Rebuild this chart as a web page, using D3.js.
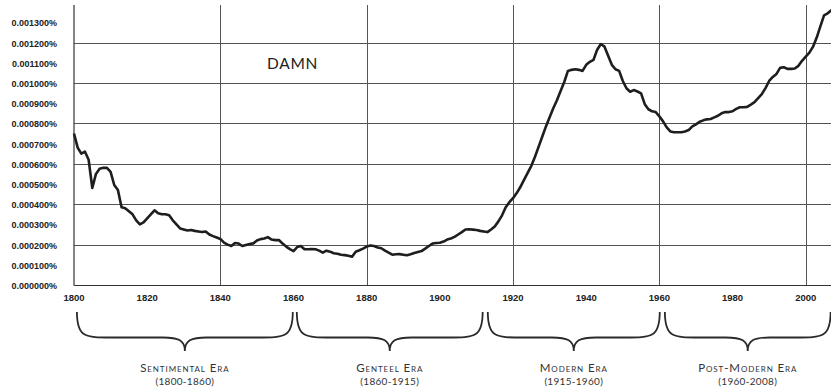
<!DOCTYPE html>
<html>
<head>
<meta charset="utf-8">
<script src="https://cdn.jsdelivr.net/npm/d3@7"></script>
<style>
  body { margin: 0; background: #fff; }
  svg { display: block; }
  .tick-label { font-family: "Liberation Sans", Arial, sans-serif; font-weight: bold; font-size: 9px; fill: #222; }
  .era { font-family: Lato, "Open Sans", sans-serif; fill: #333; }
</style>
</head>
<body>
<div id="chart"></div>
<script>
const width = 831;
const height = 388;

// frequency of "damn" (percent of words)
const years = d3.range(1800, 2009);
const values = [
  7.5, 6.8, 6.5, 6.6, 6.2, 4.8, 5.5, 5.75, 5.8, 5.8,      // 1800
  5.6, 4.95, 4.7, 3.85, 3.8, 3.65, 3.5, 3.2, 3.0, 3.1,    // 1810
  3.3, 3.5, 3.7, 3.55, 3.5, 3.5, 3.45, 3.2, 3.0, 2.8,     // 1820
  2.75, 2.7, 2.72, 2.68, 2.65, 2.62, 2.65, 2.5, 2.42, 2.35, // 1830
  2.28, 2.1, 2.0, 1.93, 2.08, 2.05, 1.93, 1.98, 2.03, 2.06, // 1840
  2.2, 2.27, 2.3, 2.37, 2.25, 2.22, 2.23, 2.05, 1.9, 1.78, // 1850
  1.68, 1.88, 1.93, 1.77, 1.77, 1.78, 1.77, 1.7, 1.6, 1.7, // 1860
  1.65, 1.57, 1.55, 1.5, 1.48, 1.45, 1.4, 1.65, 1.72, 1.8, // 1870
  1.9, 1.96, 1.93, 1.86, 1.82, 1.7, 1.6, 1.5, 1.52, 1.53, // 1880
  1.5, 1.47, 1.52, 1.58, 1.63, 1.68, 1.8, 1.93, 2.05, 2.08, // 1890
  2.09, 2.15, 2.25, 2.3, 2.38, 2.5, 2.62, 2.75, 2.76, 2.74, // 1900
  2.72, 2.68, 2.65, 2.62, 2.75, 2.9, 3.15, 3.45, 3.85, 4.1, // 1910
  4.3, 4.55, 4.85, 5.2, 5.55, 5.9, 6.35, 6.85, 7.35, 7.85, // 1920
  8.3, 8.75, 9.15, 9.6, 10.05, 10.6, 10.65, 10.68, 10.65, 10.6, // 1930
  10.9, 11.05, 11.15, 11.65, 11.93, 11.8, 11.35, 10.9, 10.68, 10.6, // 1940
  10.1, 9.74, 9.57, 9.65, 9.58, 9.49, 8.95, 8.7, 8.6, 8.56, // 1950
  8.35, 8.1, 7.8, 7.6, 7.56, 7.56, 7.56, 7.6, 7.67, 7.85, // 1960
  7.95, 8.08, 8.15, 8.2, 8.22, 8.3, 8.38, 8.5, 8.56, 8.56, // 1970
  8.6, 8.72, 8.8, 8.8, 8.82, 8.93, 9.05, 9.25, 9.45, 9.75, // 1980
  10.1, 10.3, 10.45, 10.75, 10.78, 10.7, 10.7, 10.72, 10.85, 11.1, // 1990
  11.3, 11.5, 11.8, 12.25, 12.8, 13.35, 13.45, 13.6, 13.75 // 2000
].map(v => v * 0.0001);

const yTicks = d3.range(0, 14).map(i => i * 0.0001);
const gridValues = [0.0002, 0.0004, 0.0006, 0.0008, 0.0010, 0.0012];
const xTicks = [1800, 1820, 1840, 1860, 1880, 1900, 1920, 1940, 1960, 1980, 2000];
const xGrid = [1840, 1880, 1920, 1960, 2000];

const eraNames = ["Sentimental Era", "Genteel Era", "Modern Era", "Post-Modern Era"];
const eraRanges = ["(1800-1860)", "(1860-1915)", "(1915-1960)", "(1960-2008)"];
const braceStart = [1800.8, 1860.9, 1913.1, 1961.5];
const braceEnd = [1859.8, 1911.7, 1960.1, 2006.8];

const wordLabel = "DAMN";

const x = d3.scaleLinear().domain([1800, 2008]).range([74, 835]);
const y = d3.scaleLinear().domain([0, 0.0013]).range([285, 22.4]);
const plotTop = 5;

const svg = d3.select("#chart")
  .append("svg")
  .attr("width", width)
  .attr("height", height);

// horizontal grid
svg.selectAll(".hgrid")
  .data(gridValues)
  .join("line")
    .attr("x1", x(1800)).attr("x2", width)
    .attr("y1", d => Math.round(y(d)) + 0.5)
    .attr("y2", d => Math.round(y(d)) + 0.5)
    .style("stroke", "#555")
    .style("stroke-width", 1);

// vertical grid
svg.selectAll(".vgrid")
  .data(xGrid)
  .join("line")
    .attr("x1", d => Math.round(x(d)) + 0.5)
    .attr("x2", d => Math.round(x(d)) + 0.5)
    .attr("y1", plotTop).attr("y2", y(0))
    .style("stroke", "#555")
    .style("stroke-width", 1);

// axes lines
svg.append("line")
  .attr("x1", x(1800)).attr("x2", x(1800))
  .attr("y1", plotTop).attr("y2", y(0) + 0.5)
  .style("stroke", "#333").style("stroke-width", 1.2);
svg.append("line")
  .attr("x1", x(1800)).attr("x2", width)
  .attr("y1", y(0) + 0.5).attr("y2", y(0) + 0.5)
  .style("stroke", "#333").style("stroke-width", 1.2);

// y labels
const fmt = d3.format(".6f");
svg.selectAll(".ylab")
  .data(yTicks)
  .join("text")
    .attr("class", "tick-label")
    .attr("x", 57)
    .attr("y", d => y(d) + 4)
    .attr("text-anchor", "end")
    .text(d => fmt(d) + "%");

// x labels
svg.selectAll(".xlab")
  .data(xTicks)
  .join("text")
    .attr("class", "tick-label")
    .attr("x", d => x(d))
    .attr("y", 300.5)
    .attr("text-anchor", "middle")
    .style("font-size", "9.5px")
    .text(d => d);

// the line
const line = d3.line()
  .x((d, i) => x(years[i]))
  .y(d => y(d));

svg.append("path")
  .datum(values)
  .attr("d", line)
  .style("fill", "none")
  .style("stroke", "#1e1e1e")
  .style("stroke-width", 2.6)
  .style("stroke-linejoin", "round");

// word label
svg.append("text")
  .attr("x", 267)
  .attr("y", 68.5)
  .style("font-family", "Lato, 'Open Sans', sans-serif")
  .style("font-size", "15.5px")
  .style("letter-spacing", "0.7px")
  .style("fill", "#222")
  .text(wordLabel);

// braces
const braceTop = 312, braceMid = 337.5, braceTip = 351;
function bracePath(x0, x1) {
  const m = (x0 + x1) / 2;
  return `M${x0},${braceTop}
    C${x0},${braceMid} ${x0 + 8},${braceMid} ${x0 + 35},${braceMid}
    L${m - 22},${braceMid}
    C${m - 6},${braceMid} ${m},${braceMid + 3} ${m},${braceTip}
    C${m},${braceMid + 3} ${m + 6},${braceMid} ${m + 22},${braceMid}
    L${x1 - 35},${braceMid}
    C${x1 - 8},${braceMid} ${x1},${braceMid} ${x1},${braceTop}`;
}

const eras = svg.selectAll(".era-g")
  .data(eraNames)
  .join("g");

eras.append("path")
  .attr("d", (d, i) => bracePath(x(braceStart[i]), x(braceEnd[i])))
  .style("fill", "none")
  .style("stroke", "#2a2a2a")
  .style("stroke-width", 1.8);

eras.append("text")
  .attr("class", "era")
  .attr("x", (d, i) => (x(braceStart[i]) + x(braceEnd[i])) / 2)
  .attr("y", 372)
  .attr("text-anchor", "middle")
  .style("font-size", "11.5px")
  .style("font-variant", "small-caps")
  .style("letter-spacing", "0.9px")
  .text(d => d);

eras.append("text")
  .attr("class", "era")
  .attr("x", (d, i) => (x(braceStart[i]) + x(braceEnd[i])) / 2)
  .attr("y", 384.5)
  .attr("text-anchor", "middle")
  .style("font-size", "10px")
  .style("letter-spacing", "0.3px")
  .text((d, i) => eraRanges[i]);
</script>
</body>
</html>
